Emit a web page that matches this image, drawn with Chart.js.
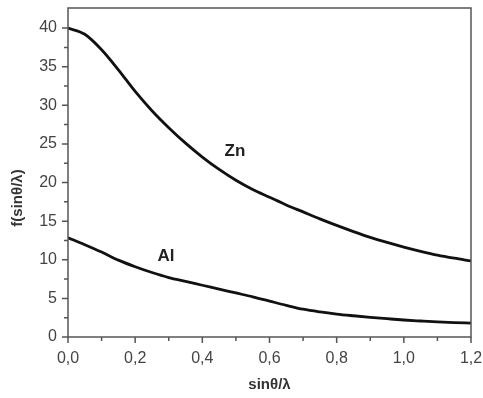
<!DOCTYPE html>
<html>
<head>
<meta charset="utf-8">
<script src="https://cdn.jsdelivr.net/npm/chart.js@4.4.1/dist/chart.umd.min.js"></script>
<style>
  html, body { margin: 0; padding: 0; background: #fff; }
  #wrap { width: 483px; height: 398px; }
</style>
</head>
<body>
<div id="wrap"><canvas id="chart"></canvas></div>
<script>
// sinθ/λ sample points
const sinThetaOverLambda = [0, 0.05, 0.1, 0.15, 0.2, 0.25, 0.3, 0.35, 0.4, 0.45, 0.5, 0.55, 0.6,
    0.65, 0.7, 0.75, 0.8, 0.85, 0.9, 0.95, 1.0, 1.05, 1.1, 1.15, 1.2];
const znValues = [40, 39.2, 37.2, 34.6, 31.8, 29.3, 27.1, 25.1, 23.3, 21.7, 20.3, 19.1, 18.1,
    17.1, 16.2, 15.3, 14.45, 13.65, 12.9, 12.25, 11.65, 11.1, 10.6, 10.2, 9.85];
const alValues = [12.85, 11.95, 11.0, 9.95, 9.1, 8.35, 7.7, 7.2, 6.7, 6.2, 5.7, 5.2, 4.65,
    4.1, 3.6, 3.25, 2.97, 2.75, 2.55, 2.37, 2.2, 2.07, 1.95, 1.86, 1.8];
const xTicks = [0, 0.1, 0.2, 0.3, 0.4, 0.5, 0.6, 0.7, 0.8, 0.9, 1.0, 1.1, 1.2];
const yTicks = [0, 2.5, 5, 7.5, 10, 12.5, 15, 17.5, 20, 22.5, 25, 27.5, 30, 32.5, 35, 37.5, 40];
const seriesLabels = [
    { text: 'Zn', x: 0.497, y: 24.0 },
    { text: 'Al', x: 0.292, y: 10.4 }
];

const axisColor = '#555';
const textColor = '#444';

function toPoints(ys) {
    return sinThetaOverLambda.map((x, i) => ({ x, y: ys[i] }));
}

const frameAndTicks = {
    id: 'frameAndTicks',
    afterDraw(chart) {
        const { ctx, chartArea: a, scales } = chart;
        ctx.save();
        ctx.strokeStyle = axisColor;
        ctx.lineWidth = 1.5;
        ctx.strokeRect(a.left, a.top, a.right - a.left, a.bottom - a.top);

        ctx.beginPath();
        xTicks.forEach((v, i) => {
            const px = scales.x.getPixelForValue(v);
            const len = i % 2 === 0 ? 6 : 4;
            ctx.moveTo(px, a.bottom);
            ctx.lineTo(px, a.bottom + len);
        });
        yTicks.forEach((v, i) => {
            const py = scales.y.getPixelForValue(v);
            const len = i % 2 === 0 ? 6 : 4;
            ctx.moveTo(a.left, py);
            ctx.lineTo(a.left - len, py);
        });
        ctx.stroke();

        // curve labels
        ctx.fillStyle = '#222';
        ctx.font = 'bold 17px "Liberation Sans", Arial, sans-serif';
        ctx.textAlign = 'center';
        ctx.textBaseline = 'middle';
        seriesLabels.forEach(l => {
            ctx.fillText(l.text, scales.x.getPixelForValue(l.x), scales.y.getPixelForValue(l.y));
        });

        // y axis title
        ctx.fillStyle = '#333';
        ctx.font = 'bold 15px "Liberation Sans", Arial, sans-serif';
        ctx.translate(18, 198);
        ctx.rotate(-Math.PI / 2);
        ctx.fillText('f(sinθ/λ)', 0, 0);
        ctx.restore();
    }
};

new Chart(document.getElementById('chart'), {
    type: 'line',
    data: {
        datasets: [
            { label: 'Zn', data: toPoints(znValues) },
            { label: 'Al', data: toPoints(alValues) }
        ]
    },
    options: {
        responsive: true,
        maintainAspectRatio: false,
        animation: false,
        layout: { padding: { top: 8, right: 12, left: 0, bottom: 0 } },
        elements: {
            line: { borderColor: '#111', borderWidth: 2.8, cubicInterpolationMode: 'monotone', fill: false },
            point: { radius: 0 }
        },
        plugins: {
            legend: { display: false },
            tooltip: { enabled: false }
        },
        scales: {
            x: {
                type: 'linear',
                min: 0,
                max: 1.2,
                afterBuildTicks: s => { s.ticks = xTicks.map(v => ({ value: v })); },
                afterFit: s => {
                    s.height = 61;
                    s.paddingLeft = 0;
                    s.paddingRight = 0;
                },
                grid: { display: false },
                border: { display: false },
                ticks: {
                    padding: 4,
                    color: textColor,
                    maxRotation: 0,
                    autoSkip: false,
                    font: { family: '"Liberation Sans", Arial, sans-serif', size: 16 },
                    callback: (v, i) => i % 2 === 0 ? v.toFixed(1).replace('.', ',') : ''
                },
                title: {
                    display: true,
                    text: 'sinθ/λ',
                    color: '#333',
                    font: { family: '"Liberation Sans", Arial, sans-serif', size: 15, weight: 'bold' },
                    padding: { top: 4, bottom: 4 }
                }
            },
            y: {
                min: 0,
                max: 42.6,
                afterBuildTicks: s => { s.ticks = yTicks.map(v => ({ value: v })); },
                afterFit: s => {
                    s.width = 68;
                    s.paddingTop = 0;
                    s.paddingBottom = 0;
                },
                grid: { display: false },
                border: { display: false },
                ticks: {
                    padding: 3,
                    color: textColor,
                    autoSkip: false,
                    font: { family: '"Liberation Sans", Arial, sans-serif', size: 16 },
                    callback: (v, i) => i % 2 === 0 ? String(v) : ''
                }
            }
        }
    },
    plugins: [frameAndTicks]
});
</script>
</body>
</html>
